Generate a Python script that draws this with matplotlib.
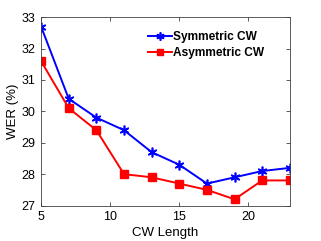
import matplotlib
matplotlib.use("Agg")
import matplotlib.pyplot as plt

cw_length = [5, 7, 9, 11, 13, 15, 17, 19, 21, 23]
symmetric = [32.7, 30.4, 29.8, 29.4, 28.7, 28.3, 27.7, 27.9, 28.1, 28.2]
asymmetric = [31.6, 30.1, 29.4, 28.0, 27.9, 27.7, 27.5, 27.2, 27.8, 27.8]
xticks = [5, 10, 15, 20]
yticks = [27, 28, 29, 30, 31, 32, 33]

plt.rcParams['font.family'] = ['Liberation Sans', 'DejaVu Sans']

fig = plt.figure(figsize=(3.21, 2.41), dpi=100)
ax = fig.add_axes([0.128, 0.147, 0.775, 0.782])

ax.plot(cw_length, symmetric, color='#0000ff', marker=(6, 2, 0), markersize=7,
        markeredgewidth=1.2, linewidth=1.4, label='Symmetric CW')
ax.plot(cw_length, asymmetric, color='#ff0000', marker='s', markersize=5.3,
        linewidth=1.4, label='Asymmetric CW')

ax.set_xlim(5, 23)
ax.set_ylim(27, 33)
ax.set_xticks(xticks)
ax.set_yticks(yticks)
ax.tick_params(direction='in', length=3, width=0.6, color='#404040', labelsize=9,
               top=True, right=True, pad=4)
for s in ax.spines.values():
    s.set_color('#404040')
    s.set_linewidth(0.6)
ax.set_xlabel('CW Length', fontsize=9.5, labelpad=3)
ax.set_ylabel('WER (%)', fontsize=9.5, labelpad=2)

leg = ax.legend(loc='upper left', bbox_to_anchor=(0.43, 0.925), frameon=False,
                prop={'weight': 'bold', 'size': 8.6}, handlelength=2.0,
                handletextpad=0.1, labelspacing=0.3, borderpad=0,
                borderaxespad=0, markerscale=0.85)

fig.savefig('out.png', dpi=100)
